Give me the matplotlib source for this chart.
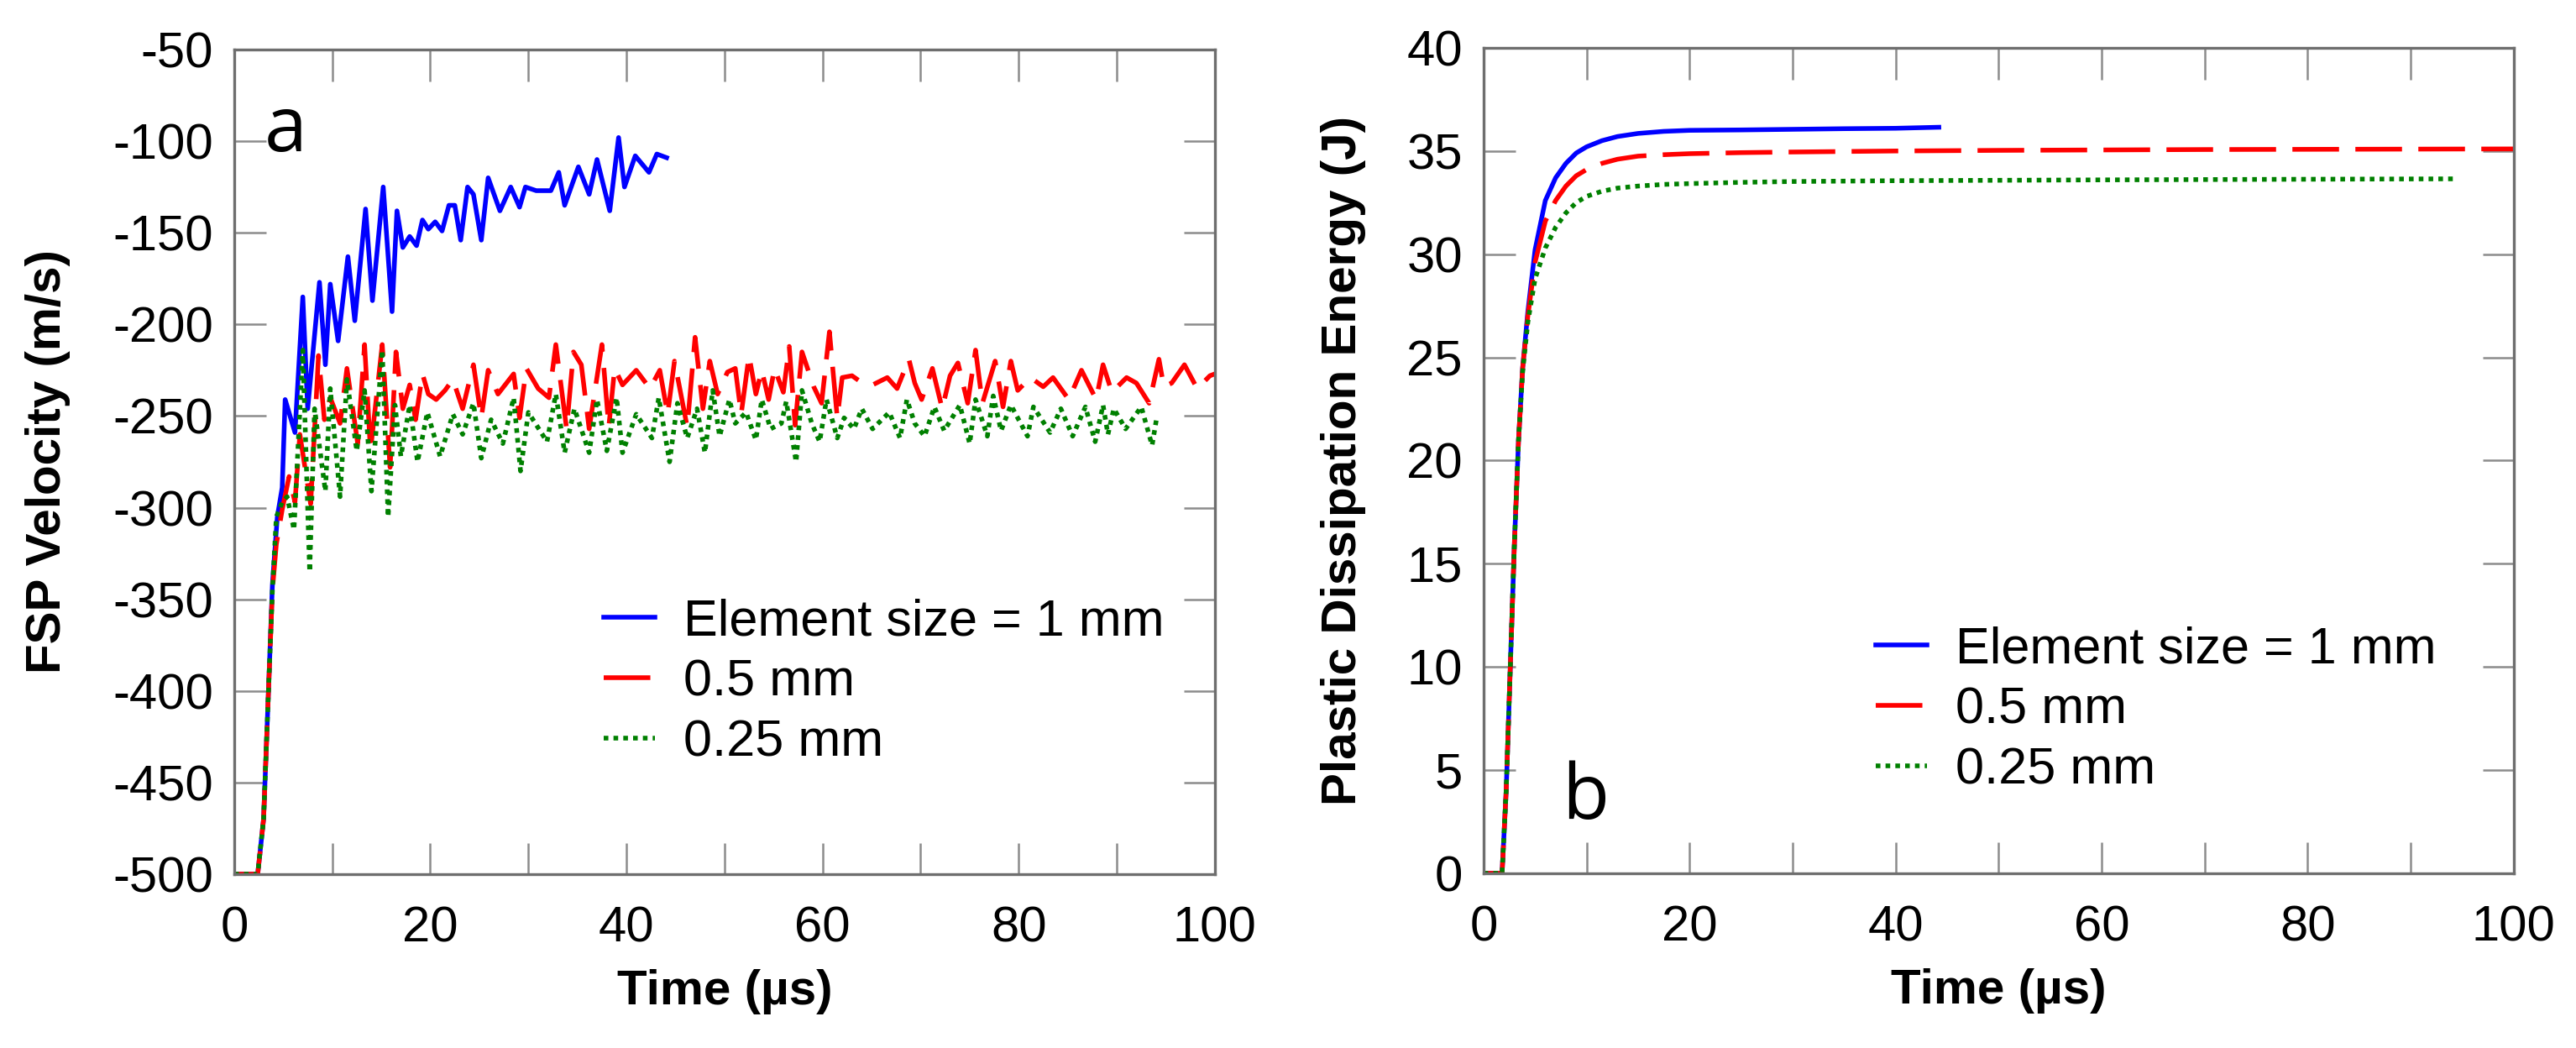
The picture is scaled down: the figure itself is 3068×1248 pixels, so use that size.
import numpy as np
import matplotlib
matplotlib.use('Agg')
import matplotlib.pyplot as plt
from matplotlib.ticker import MultipleLocator

plt.rcParams['font.family'] = ['Liberation Sans', 'DejaVu Sans']
plt.rcParams['axes.unicode_minus'] = False

# ---- panel a : FSP velocity (m/s) vs time (us) ----
t_vel_1mm = [0, 2.4, 3.0, 3.5, 3.9, 4.4, 4.9, 5.2, 6.2, 7.0, 7.5, 8.7, 9.3, 9.8, 10.6, 11.6,
             12.3, 13.4, 14.1, 15.2, 16.1, 16.6, 17.2, 17.9, 18.6, 19.2, 19.8, 20.5, 21.2,
             21.9, 22.5, 23.1, 23.8, 24.4, 25.2, 25.9, 27.1, 28.2, 29.1, 29.7, 30.8, 32.3,
             33.1, 33.7, 35.1, 36.2, 37.0, 38.3, 39.2, 39.8, 40.9, 42.3, 43.1, 44.1]
v_vel_1mm = [-500, -500, -470, -400, -342, -305, -289, -241, -259, -185, -246, -177, -222,
             -178, -209, -163, -198, -137, -187, -125, -193, -138, -158, -152, -157, -143,
             -148, -144, -149, -135, -135, -154, -125, -129, -154, -120, -138, -125, -136,
             -125, -127, -127, -117, -135, -114, -129, -110, -138, -98, -125, -108, -117,
             -107, -109]

t_vel_05mm = [0, 2.4, 3.0, 3.5, 3.9, 4.3, 4.9, 5.6, 6.2, 6.7, 7.8, 8.6, 9.2, 9.8, 10.8, 11.5,
              12.6, 13.3, 13.9, 15.1, 15.9, 16.5, 17.2, 17.9, 18.5, 19.2, 19.8, 20.6, 21.5,
              22.3, 23.3, 24.4, 25.2, 25.9, 26.9, 28.5, 29.1, 29.8, 31.0, 32.1, 32.8, 33.9,
              34.6, 35.4, 36.2, 37.5, 38.2, 38.8, 39.6, 41.0, 42.4, 43.4, 44.2, 44.9, 46.2,
              47.0, 47.8, 48.5, 49.3, 50.3, 51.1, 51.7, 52.5, 53.2, 53.8, 54.5, 55.1, 56.0,
              56.6, 57.2, 57.9, 59.1, 59.9, 60.7, 61.5, 62.0, 63.0, 63.8, 65.1, 66.6, 67.6,
              68.8, 69.4, 70.1, 71.2, 72.2, 73.0, 73.8, 74.8, 75.6, 76.3, 77.6, 78.4, 79.2,
              79.9, 81.2, 82.5, 83.5, 85.1, 86.4, 87.9, 88.6, 89.5, 91.0, 92.0, 93.3, 94.3,
              94.8, 95.6, 96.9, 98.2, 99.5, 100.0]
v_vel_05mm = [-500, -500, -470, -400, -345, -320, -301, -283, -297, -260, -298, -217, -252,
              -240, -254, -224, -265, -211, -269, -211, -278, -215, -246, -233, -252, -227,
              -238, -241, -236, -230, -246, -222, -251, -225, -238, -227, -251, -224, -235,
              -240, -211, -257, -215, -222, -257, -211, -256, -224, -233, -225, -235, -225,
              -249, -220, -256, -207, -246, -220, -238, -226, -224, -249, -217, -238, -225,
              -241, -224, -237, -212, -255, -215, -234, -243, -204, -251, -229, -228, -231,
              -233, -229, -235, -219, -232, -241, -224, -246, -228, -221, -243, -214, -243,
              -220, -245, -220, -236, -229, -234, -229, -241, -225, -241, -222, -237, -229,
              -232, -243, -219, -234, -232, -222, -235, -228, -227]

t_vel_025mm = [0, 2.4, 3.0, 3.5, 3.9, 4.3, 4.9, 5.4, 6.1, 7.0, 7.7, 8.2, 9.3, 9.8, 10.8, 11.5,
               12.5, 13.3, 14.0, 15.1, 15.7, 16.4, 17.0, 17.9, 18.7, 19.7, 21.0, 22.3, 23.3,
               24.4, 25.2, 26.2, 27.4, 28.5, 29.2, 30.0, 31.9, 32.8, 33.7, 34.7, 36.2, 37.0,
               38.0, 39.0, 39.6, 41.0, 42.6, 43.3, 44.4, 45.2, 46.2, 47.2, 48.0, 48.8, 49.5,
               50.5, 51.1, 52.2, 53.2, 53.8, 54.7, 55.8, 56.3, 57.3, 57.9, 58.9, 59.7, 60.4,
               61.5, 62.2, 63.2, 64.0, 65.1, 66.8, 67.9, 68.6, 69.4, 70.4, 71.4, 72.4, 74.0,
               75.0, 75.6, 76.8, 77.4, 78.2, 79.2, 80.9, 81.5, 83.2, 84.3, 85.5, 86.8, 87.8,
               88.6, 89.1, 89.7, 90.9, 92.5, 93.6, 94.1]
v_vel_025mm = [-500, -500, -470, -400, -345, -305, -297, -294, -312, -214, -335, -246, -291,
               -235, -294, -230, -269, -236, -291, -214, -305, -244, -272, -244, -275, -248,
               -272, -249, -260, -243, -273, -252, -265, -240, -280, -248, -264, -238, -270,
               -246, -270, -241, -269, -240, -270, -249, -262, -240, -275, -243, -262, -246,
               -270, -236, -261, -241, -254, -248, -263, -241, -257, -254, -242, -275, -236,
               -254, -264, -241, -262, -251, -257, -246, -257, -248, -262, -241, -254, -261,
               -245, -258, -244, -265, -241, -261, -239, -258, -244, -261, -245, -259, -246,
               -261, -245, -264, -244, -260, -246, -257, -245, -266, -250]

# ---- panel b : plastic dissipation energy (J) vs time (us) ----
t_en_1mm = [0, 1.8, 2.2, 2.6, 3.0, 3.4, 3.8, 4.3, 5.0, 6.0, 7.0, 8.0, 9.0, 10.0, 11.5, 13.0,
            15.0, 17.5, 20.0, 25.0, 30.0, 35.0, 40.0, 44.2]
e_en_1mm = [0, 0, 4, 10, 16, 21, 24.5, 27.2, 30.2, 32.6, 33.7, 34.4, 34.9, 35.2, 35.5, 35.7,
            35.85, 35.95, 36.0, 36.02, 36.05, 36.08, 36.1, 36.15]

t_en_05mm = [0, 1.8, 2.2, 2.6, 3.0, 3.4, 3.8, 4.3, 5.0, 6.0, 7.0, 8.0, 9.0, 10.0, 11.5, 13.0,
             15.0, 17.5, 20.0, 25.0, 30.0, 40.0, 50.0, 70.0, 100.0]
e_en_05mm = [0, 0, 4, 10, 16, 21, 24.5, 27.0, 29.6, 31.6, 32.6, 33.3, 33.8, 34.1, 34.4, 34.6,
             34.75, 34.82, 34.87, 34.92, 34.95, 35.0, 35.03, 35.07, 35.1]

t_en_025mm = [0, 1.8, 2.2, 2.6, 3.0, 3.4, 3.8, 4.3, 5.0, 6.0, 7.0, 8.0, 9.0, 10.0, 11.5, 13.0,
              15.0, 17.5, 20.0, 25.0, 30.0, 40.0, 60.0, 80.0, 94.3]
e_en_025mm = [0, 0, 4, 10, 16, 21, 24.3, 26.7, 28.8, 30.3, 31.3, 32.0, 32.5, 32.8, 33.05, 33.2,
              33.3, 33.38, 33.42, 33.48, 33.52, 33.56, 33.6, 33.63, 33.65]

labels = ['Element size = 1 mm', '0.5 mm', '0.25 mm']
colors = ['#0000ff', '#ff0000', '#008000']
styles = ['-', (0, (10, 3.5)), (0, (1, 1.1))]

spine_col = '#6e6e6e'
tick_col = '#8c8c8c'

fig = plt.figure(figsize=(30.68, 12.48), dpi=100)
ax_a = fig.add_axes([0.0909, 0.1659, 0.3807, 0.7868])
ax_b = fig.add_axes([0.5759, 0.1667, 0.3999, 0.7877])

series_a = [(t_vel_1mm, v_vel_1mm), (t_vel_05mm, v_vel_05mm), (t_vel_025mm, v_vel_025mm)]
series_b = [(t_en_1mm, e_en_1mm), (t_en_05mm, e_en_05mm), (t_en_025mm, e_en_025mm)]

for ax, series in [(ax_a, series_a), (ax_b, series_b)]:
    for (t, v), lab, c, ls in zip(series, labels, colors, styles):
        ax.plot(t, v, color=c, linestyle=ls, linewidth=4.0, label=lab)

    ax.set_xlim(0, 100)
    ax.xaxis.set_major_locator(MultipleLocator(20))
    ax.xaxis.set_minor_locator(MultipleLocator(10))
    for side in ax.spines.values():
        side.set_color(spine_col)
        side.set_linewidth(2.4)
    ax.tick_params(which='both', direction='in', length=27, width=1.8, color=tick_col,
                   top=True, right=True, labelsize=43)
    ax.tick_params(axis='x', which='both', pad=27)
    ax.tick_params(axis='y', which='both', pad=18)
    ax.set_xlabel('Time (\u00b5s)', fontsize=42, fontweight='bold')
    ax.xaxis.set_label_coords(0.5, -0.115)
    ax.xaxis.label.set_va('top')

    ax.legend(frameon=False, fontsize=44, handlelength=1.0, handletextpad=0.55,
              labelspacing=0.25, borderpad=0, borderaxespad=0, loc='upper left')

ax_a.set_ylim(-500, -50)
ax_a.yaxis.set_major_locator(MultipleLocator(50))
ax_a.set_ylabel('FSP Velocity (m/s)', fontsize=42, fontweight='bold')
ax_a.yaxis.set_label_coords(-0.19, 0.5)
ax_a.yaxis.label.set_va('center')
ax_a.get_legend().set_bbox_to_anchor((0.377, 0.335), transform=ax_a.transAxes)
ax_a.text(0.031, 0.877, 'a', transform=ax_a.transAxes, fontsize=66,
          family=['Open Sans', 'DejaVu Sans'], va='baseline', ha='left')

ax_b.set_ylim(0, 40)
ax_b.yaxis.set_major_locator(MultipleLocator(5))
ax_b.set_ylabel('Plastic Dissipation Energy (J)', fontsize=42, fontweight='bold')
ax_b.yaxis.set_label_coords(-0.136, 0.5)
ax_b.yaxis.label.set_va('center')
ax_b.get_legend().set_bbox_to_anchor((0.381, 0.30), transform=ax_b.transAxes)
ax_b.text(0.076, 0.066, 'b', transform=ax_b.transAxes, fontsize=66,
          family=['Open Sans', 'DejaVu Sans'], va='baseline', ha='left')

fig.savefig('out.png', dpi=100)
